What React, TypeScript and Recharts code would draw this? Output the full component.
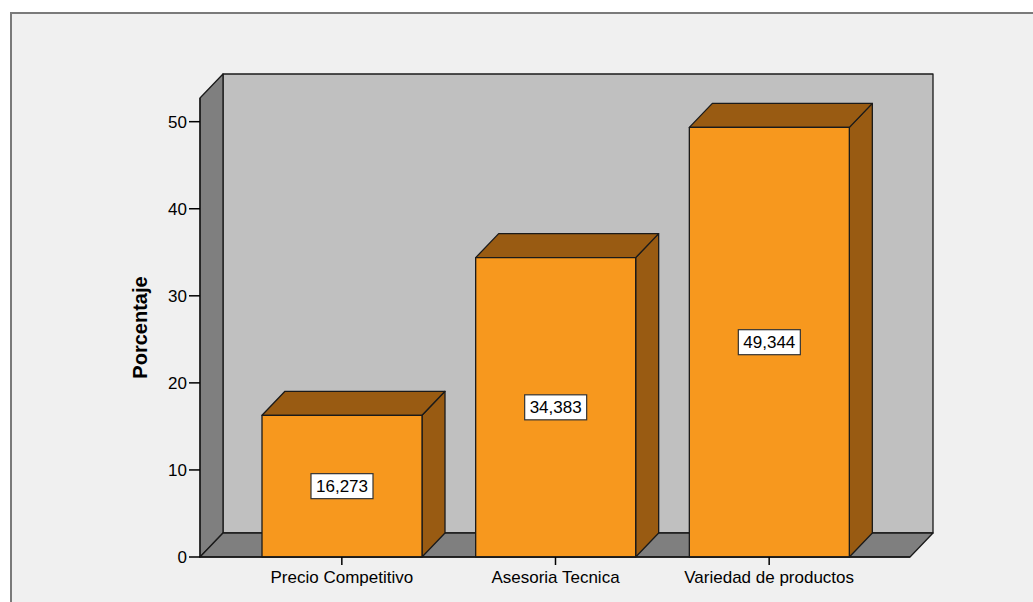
import { Bar, BarChart, LabelList, XAxis, YAxis } from "recharts";

/* ── Data ───────────────────────────────────────────────────── */
const categories = ["Precio Competitivo", "Asesoria Tecnica", "Variedad de productos"];
const percentages = [16.273, 34.383, 49.344];
const yTicks = [0, 10, 20, 30, 40, 50];
const Y_MAX = 52.72;

const data = categories.map((name, i) => ({ name, pct: percentages[i] }));

/* ── Layout ─────────────────────────────────────────────────── */
const W = 1033;
const H = 602;
const LEFT = 200; // front edge of the floor / y axis
const RIGHT = 910;
const TOP = 98;
const BOTTOM = 557;
const DX = 23; // depth offset of the 3D box
const DY = 24;
const Y_AXIS_W = 60;
const X_AXIS_H = 30;

const FONT = '"Liberation Sans", Arial, sans-serif';
const ORANGE = "#F7981E";
const BROWN = "#995B12";
const WALL = "#C0C0C0";
const SIDE_WALL = "#7F7F7F";
const EDGE = "#1a1a1a";

const fmt = (v: number) => v.toFixed(3).replace(".", ",");

/* ── 3D bar shape ───────────────────────────────────────────── */
function Bar3D(props: any) {
  const { x, y, width: w, height: h } = props;
  if (h == null || w == null) return null;
  const top = `${x},${y} ${x + DX},${y - DY} ${x + w + DX},${y - DY} ${x + w},${y}`;
  const side = `${x + w},${y} ${x + w + DX},${y - DY} ${x + w + DX},${y + h - DY} ${x + w},${y + h}`;
  return (
    <g stroke={EDGE} strokeWidth={1.3} strokeLinejoin="round">
      <polygon points={side} fill={BROWN} />
      <polygon points={top} fill={BROWN} />
      <rect x={x} y={y} width={w} height={h} fill={ORANGE} />
    </g>
  );
}

/* ── Value box in the middle of each bar ────────────────────── */
function ValueBox(props: any) {
  const vb = props.viewBox ?? props;
  const { x, y, width, height } = vb;
  const cx = x + width / 2;
  const cy = y + height / 2;
  const bw = 62;
  const bh = 25;
  return (
    <g>
      <rect
        x={cx - bw / 2}
        y={cy - bh / 2}
        width={bw}
        height={bh}
        fill="#fff"
        stroke="#333"
        strokeWidth={1.2}
      />
      <text
        x={cx}
        y={cy + 6}
        textAnchor="middle"
        fontSize={17}
        fontFamily={FONT}
        fill="#000"
      >
        {fmt(Number(props.value))}
      </text>
    </g>
  );
}

/* ── Back wall, side wall and floor ─────────────────────────── */
function Backdrop() {
  const backRight = RIGHT + DX;
  return (
    <svg width={W} height={H} style={{ position: "absolute", left: 0, top: 0 }}>
      <rect x={0} y={0} width={W} height={H} fill="#fff" />
      <rect x={11} y={13} width={W + 10} height={H + 10} fill="#F0F0F0" stroke="#7a7a7a" strokeWidth={2} />
      <g stroke={EDGE} strokeWidth={1.3} strokeLinejoin="round">
        <rect x={LEFT + DX} y={TOP - DY} width={backRight - LEFT - DX} height={BOTTOM - TOP} fill={WALL} />
        <polygon
          points={`${LEFT},${TOP} ${LEFT + DX},${TOP - DY} ${LEFT + DX},${BOTTOM - DY} ${LEFT},${BOTTOM}`}
          fill={SIDE_WALL}
        />
        <polygon
          points={`${LEFT},${BOTTOM} ${LEFT + DX},${BOTTOM - DY} ${backRight},${BOTTOM - DY} ${RIGHT},${BOTTOM}`}
          fill={SIDE_WALL}
        />
      </g>
      <text
        x={0}
        y={0}
        transform={`translate(147, ${(TOP + BOTTOM) / 2}) rotate(-90)`}
        textAnchor="middle"
        fontSize={20}
        fontWeight="bold"
        fontFamily={FONT}
        fill="#000"
      >
        Porcentaje
      </text>
    </svg>
  );
}

export default function App() {
  const tick = { fill: "#000", fontSize: 17, fontFamily: FONT };
  return (
    <div style={{ position: "absolute", left: 0, top: 0, width: W, height: H }}>
      <Backdrop />
      <div style={{ position: "absolute", left: 0, top: 0 }}>
        <BarChart
          width={W}
          height={H}
          data={data}
          margin={{
            top: TOP,
            right: W - RIGHT,
            bottom: H - BOTTOM - X_AXIS_H,
            left: LEFT - Y_AXIS_W,
          }}
        >
          <XAxis
            dataKey="name"
            height={X_AXIS_H}
            padding={{ left: 35, right: 34 }}
            tick={tick}
            tickSize={8}
            tickMargin={6}
            stroke="#000"
            axisLine={{ stroke: EDGE, strokeWidth: 1.3 }}
            tickLine={{ stroke: "#000", strokeWidth: 1.5 }}
          />
          <YAxis
            width={Y_AXIS_W}
            domain={[0, Y_MAX]}
            ticks={yTicks}
            tick={tick}
            tickSize={11}
            tickMargin={2}
            axisLine={{ stroke: EDGE, strokeWidth: 1.3 }}
            tickLine={{ stroke: "#000", strokeWidth: 1.5 }}
          />
          <Bar
            dataKey="pct"
            barSize={160}
            shape={<Bar3D />}
            isAnimationActive={false}
          >
            <LabelList dataKey="pct" content={<ValueBox />} />
          </Bar>
        </BarChart>
      </div>
    </div>
  );
}
